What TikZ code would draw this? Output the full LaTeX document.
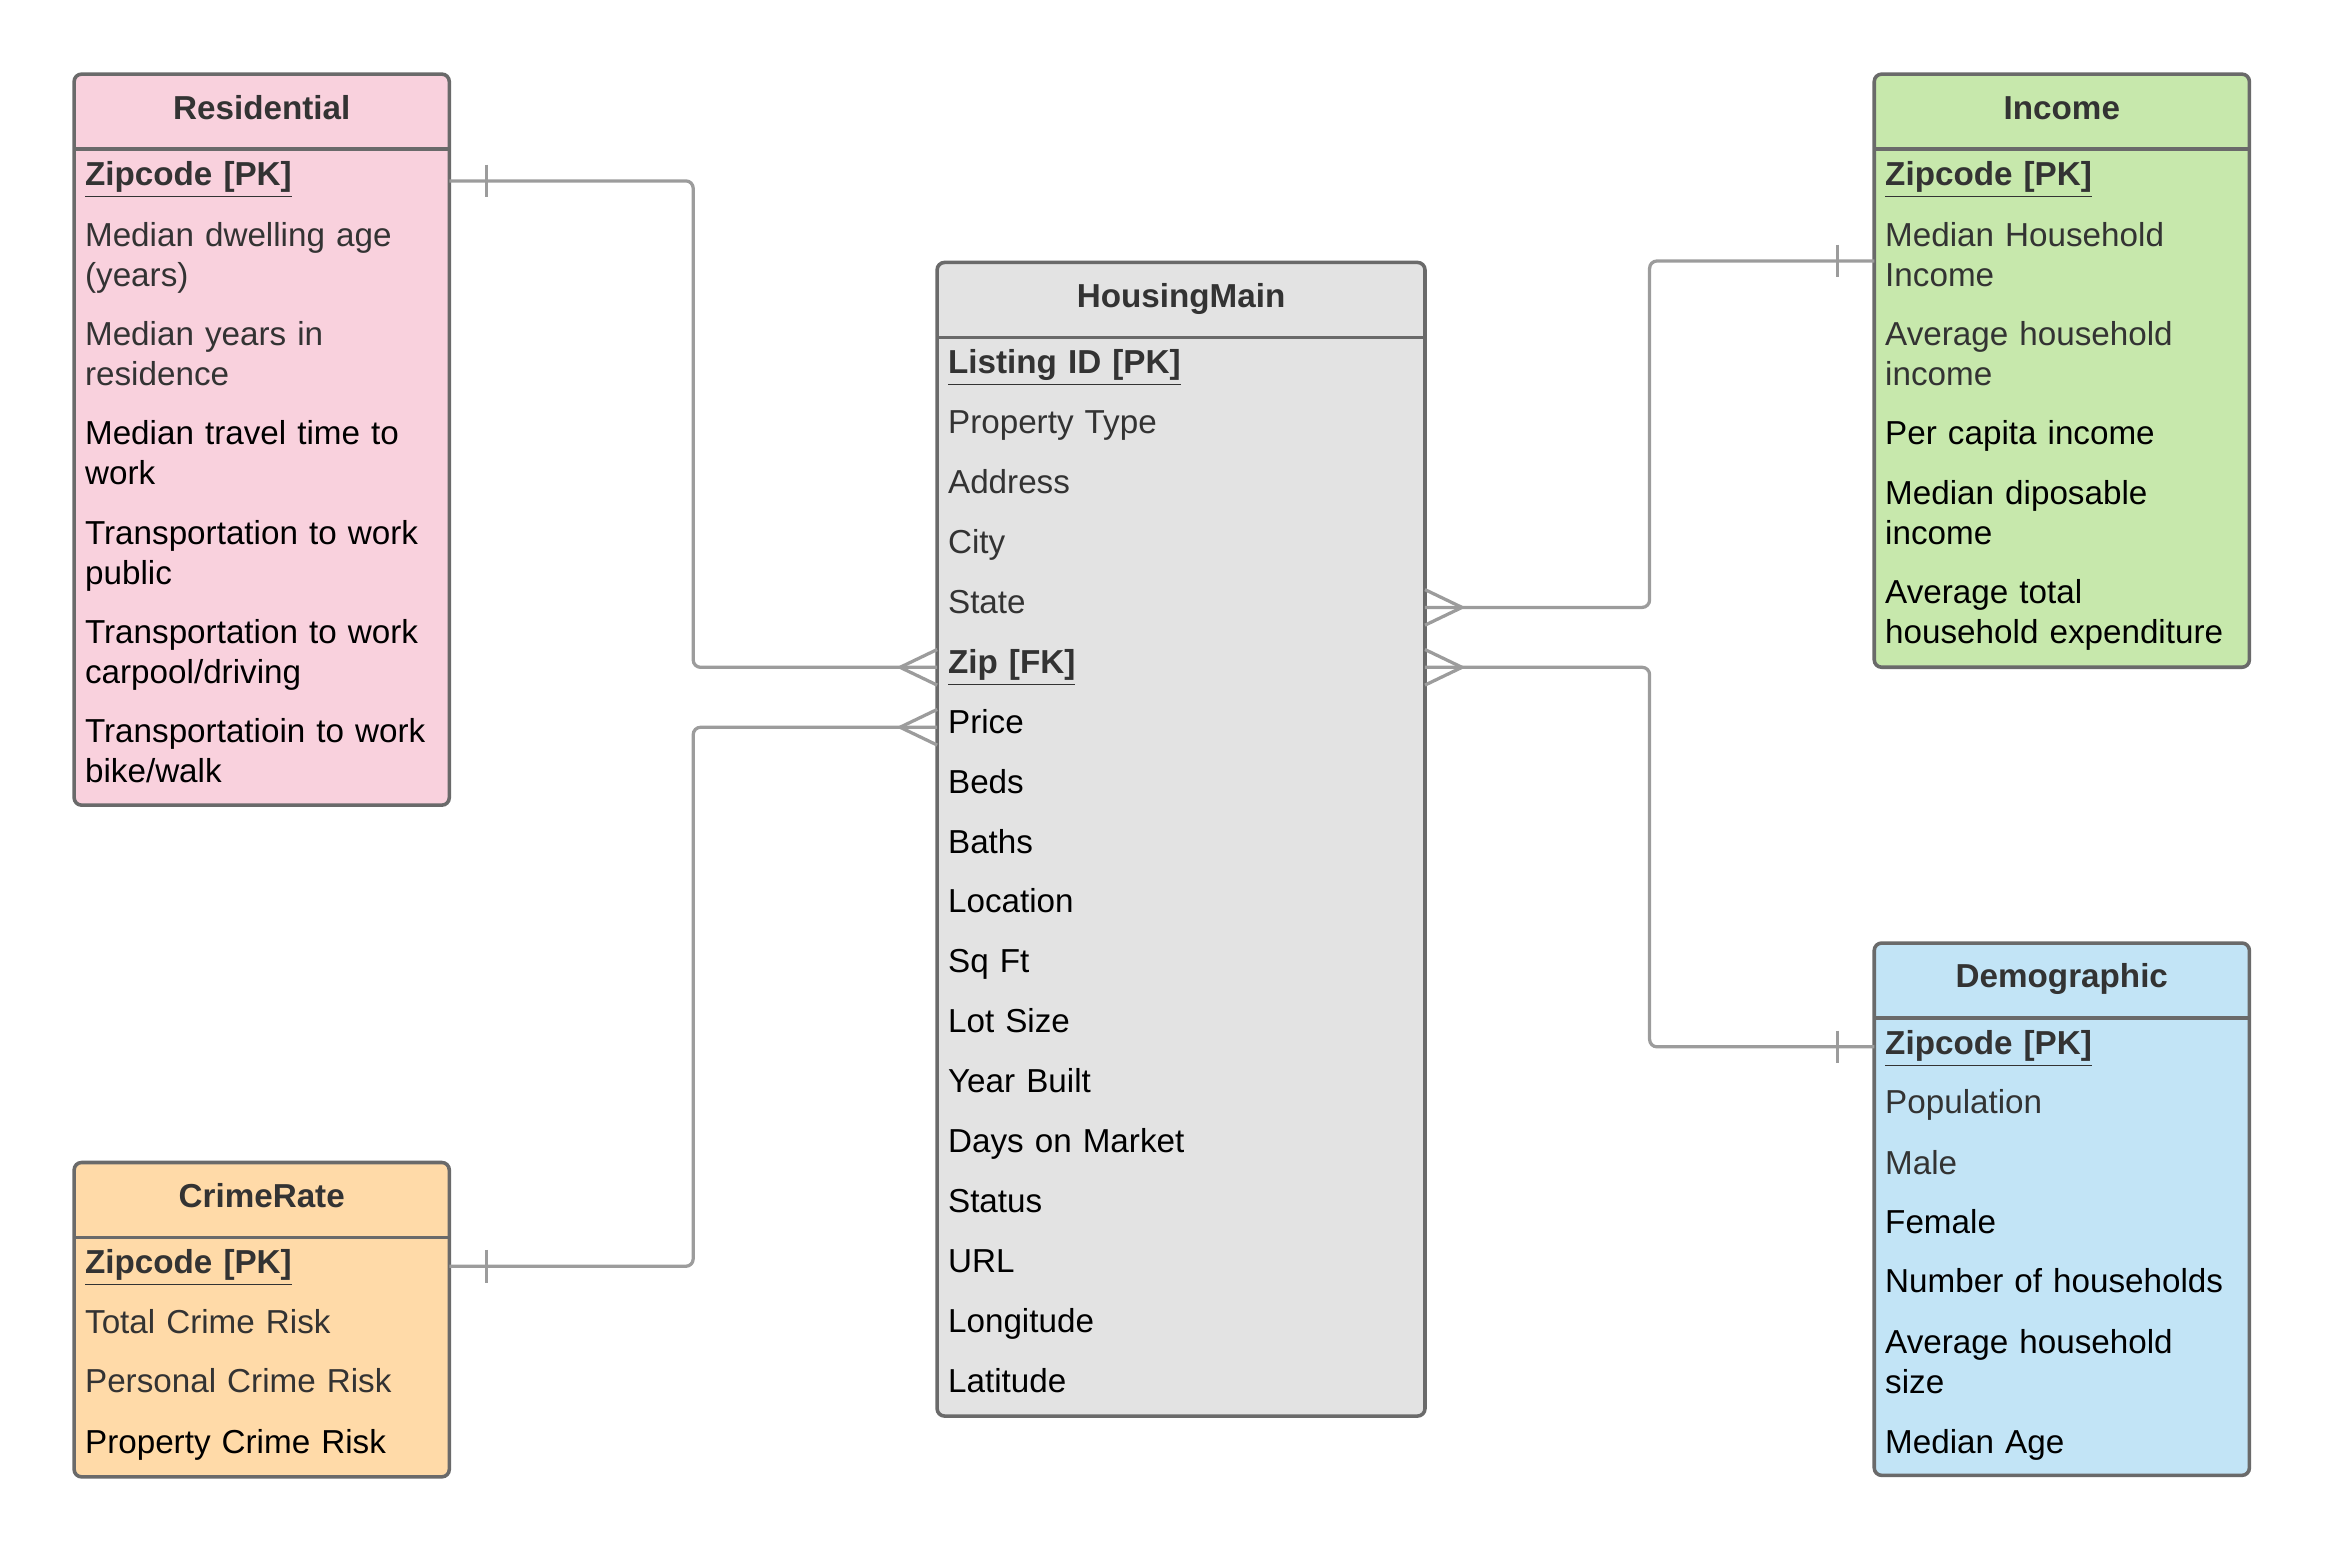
\documentclass[tikz,border=0pt]{standalone}
\usepackage{fontspec}
\setmainfont{Liberation Sans}
\usetikzlibrary{calc,fit}

\definecolor{respink}{HTML}{F9D1DD}
\definecolor{incgreen}{HTML}{C7E8AC}
\definecolor{demblue}{HTML}{C2E4F6}
\definecolor{crimeorange}{HTML}{FFDAA8}
\definecolor{maingray}{HTML}{E3E3E3}
\definecolor{edgegray}{HTML}{6A6A6A}
\definecolor{linkgray}{HTML}{9C9C9C}
\definecolor{txtdark}{HTML}{333333}

\newcommand{\pk}[1]{\underline{\textbf{#1}}}

\tikzset{
	entity/.style={draw=edgegray, line width=1.2pt, rounded corners=2.5pt, inner sep=0pt, outer sep=0pt},
	title/.style={font=\fontsize{11.2}{13.5}\selectfont\bfseries, text=txtdark, inner sep=0pt, text height=8.1pt, text depth=0pt},
	row/.style={anchor=base west, inner sep=0pt, text width=124pt, align=left, font=\fontsize{11.2}{13.5}\selectfont},
	link/.style={draw=linkgray, line width=1.1pt}
}

\begin{document}
\begin{tikzpicture}[x=0.5pt,y=-0.5pt]
\useasboundingbox (0,0) rectangle (1568,1047);

% tables
\node[entity, fill=respink, fit={(50,50) (303,543)}] (res) {};
\node[entity, fill=incgreen, fit={(1264,50) (1517,450)}] (inc) {};
\node[entity, fill=maingray, fit={(632,177) (961,955)}] (hm) {};
\node[entity, fill=demblue, fit={(1264,636) (1517,995)}] (dem) {};
\node[entity, fill=crimeorange, fit={(50,784) (303,996)}] (crime) {};

\foreach \e in {res,inc,hm,dem,crime}
	\draw[draw=edgegray, line width=1.2pt] ($(\e.north west)+(0,50.5)$) -- ($(\e.north east)+(0,50.5)$);

\node[title] (res-t) at ($(res.north)+(0,22.5)$) {Residential};
\node[title] (inc-t) at ($(inc.north)+(0,22.5)$) {Income};
\node[title] (hm-t) at ($(hm.north)+(0,22)$) {HousingMain};
\node[title] (dem-t) at ($(dem.north)+(0,22)$) {Demographic};
\node[title] (crime-t) at ($(crime.north)+(0,22)$) {CrimeRate};

% Residential
\node[row, text=txtdark] (r1) at (57,125) {\pk{Zipcode [PK]}};
\node[row, text=txtdark] (r2) at (57,166) {Median dwelling age\\(years)};
\node[row, text=txtdark] (r3) at (57,233) {Median years in\\residence};
\node[row] (r4) at (57,300) {Median travel time to\\work};
\node[row] (r5) at (57,367) {Transportation to work\\public};
\node[row] (r6) at (57,434) {Transportation to work\\carpool/driving};
\node[row] (r7) at (57,501) {Transportatioin to work\\bike/walk};

% Income
\node[row, text=txtdark] (i1) at (1271,125) {\pk{Zipcode [PK]}};
\node[row, text=txtdark] (i2) at (1271,166) {Median Household\\Income};
\node[row, text=txtdark] (i3) at (1271,233) {Average household\\income};
\node[row] (i4) at (1271,300) {Per capita income};
\node[row] (i5) at (1271,340) {Median diposable\\income};
\node[row] (i6) at (1271,407) {Average total\\household expenditure};

% HousingMain
\foreach \t/\c [count=\i from 0] in {{\pk{Listing ID [PK]}}/txtdark, Property Type/txtdark, Address/txtdark,
	City/txtdark, State/txtdark, {\pk{Zip [FK]}}/txtdark, Price/black, Beds/black, Baths/black,
	Location/black, Sq Ft/black, Lot Size/black, Year Built/black, Days on Market/black,
	Status/black, URL/black, Longitude/black, Latitude/black}
	\node[row, text=\c] (hm\i) at (639,252+40.41*\i) {\t};

% Demographic
\node[row, text=txtdark] (d1) at (1271,711) {\pk{Zipcode [PK]}};
\node[row, text=txtdark] (d2) at (1271,751) {Population};
\node[row, text=txtdark] (d3) at (1271,792) {Male};
\node[row] (d4) at (1271,832) {Female};
\node[row] (d5) at (1271,872) {Number of households};
\node[row] (d6) at (1271,913) {Average household\\size};
\node[row] (d7) at (1271,980) {Median Age};

% CrimeRate
\node[row, text=txtdark] (c1) at (57,859) {\pk{Zipcode [PK]}};
\node[row, text=txtdark] (c2) at (57,899) {Total Crime Risk};
\node[row, text=txtdark] (c3) at (57,939) {Personal Crime Risk};
\node[row] (c4) at (57,980) {Property Crime Risk};

% relations
\coordinate (a1) at ($(res.east |- r1.base)+(0,-3)$);
\coordinate (b1) at ($(hm.west |- hm5.base)+(0,-4)$);
\coordinate (a2) at ($(crime.east |- c1.base)+(0,-5)$);
\coordinate (b2) at ($(hm.west |- hm6.base)+(0,-4)$);
\coordinate (a3) at ($(hm.east |- hm4.base)+(0,-4)$);
\coordinate (b3) at ($(inc.west |- i2.base)+(0,10)$);
\coordinate (a4) at ($(hm.east |- hm5.base)+(0,-4)$);
\coordinate (b4) at ($(dem.west |- d1.base)+(0,-5)$);

\foreach \s/\e in {a1/b1,a2/b2,a3/b3,a4/b4}
	\draw[link, rounded corners=2.5pt] (\s) -| ($(\s)!.5!(\e)$) |- (\e);

% one side
\foreach \p/\d in {a1/25,a2/25,b3/-25,b4/-25}
	\draw[link] ($(\p)+(\d,-11)$) -- ($(\p)+(\d,11)$);

% many side
\foreach \d in {-12,0,12}{
	\draw[link] ($(b1)+(-25,0)$) -- ($(b1)+(0,\d)$);
	\draw[link] ($(b2)+(-25,0)$) -- ($(b2)+(0,\d)$);
	\draw[link] ($(a3)+(25,0)$) -- ($(a3)+(0,\d)$);
	\draw[link] ($(a4)+(25,0)$) -- ($(a4)+(0,\d)$);
}
\end{tikzpicture}
\end{document}
